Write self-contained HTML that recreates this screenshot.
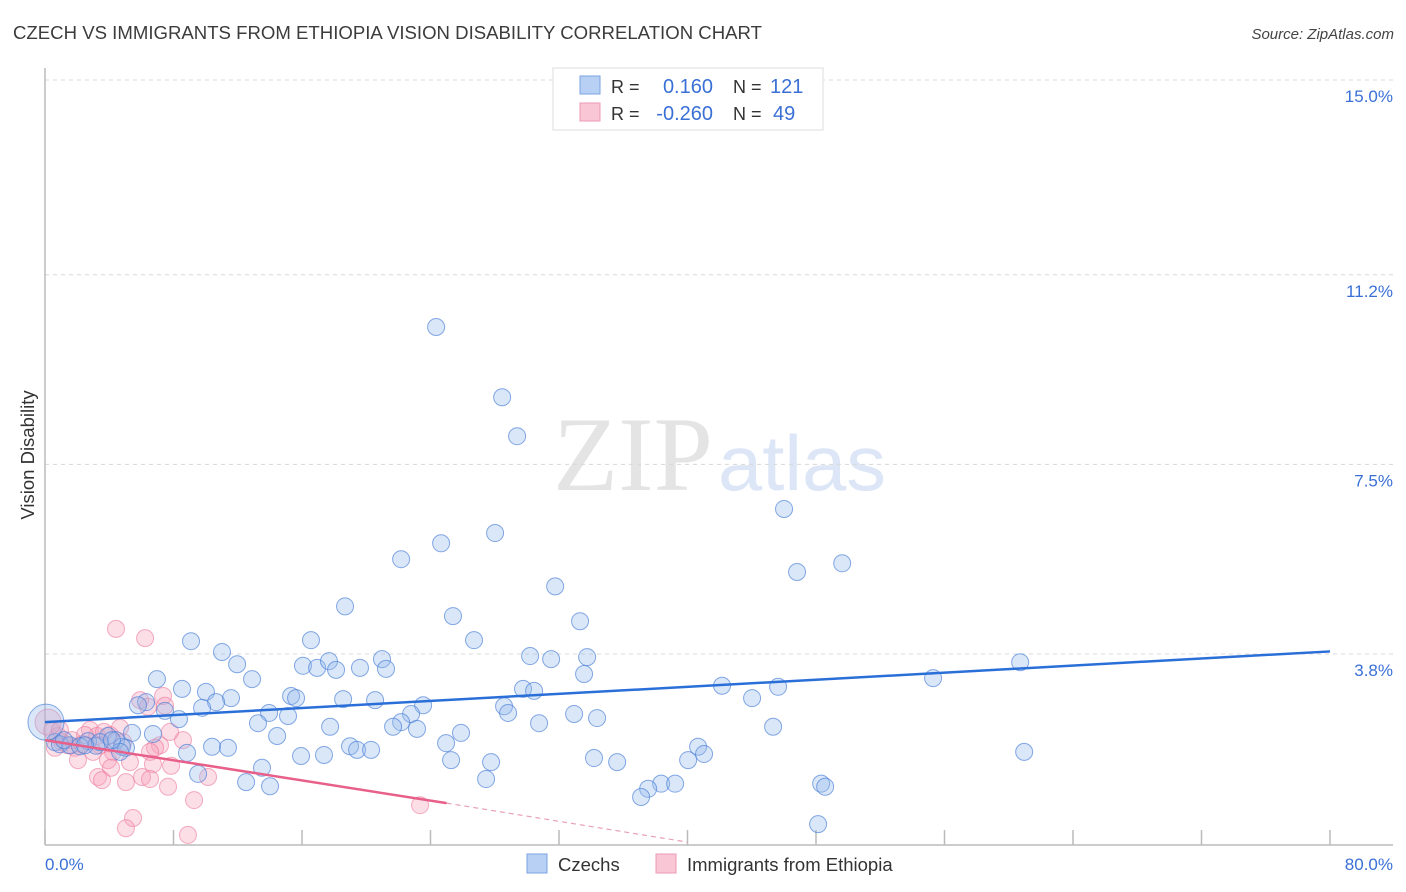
<!DOCTYPE html>
<html><head><meta charset="utf-8"><style>
body{margin:0;background:#fff;width:1406px;height:892px;overflow:hidden;font-family:"Liberation Sans",sans-serif}
svg{display:block}
</style></head><body>
<svg id="chart" width="1406" height="892" viewBox="0 0 1406 892" xmlns="http://www.w3.org/2000/svg">
<text x="13" y="39" font-size="18" textLength="749" lengthAdjust="spacingAndGlyphs" fill="#3c3c3c" font-family="Liberation Sans, sans-serif">CZECH VS IMMIGRANTS FROM ETHIOPIA VISION DISABILITY CORRELATION CHART</text>
<text x="1394" y="39" font-size="15" fill="#444" font-style="italic" text-anchor="end">Source: ZipAtlas.com</text>
<g>
<text x="553" y="490" font-size="106" textLength="160" lengthAdjust="spacingAndGlyphs" fill="#e4e4e4" font-family="Liberation Serif, serif">ZIP</text>
<text x="718" y="490" font-size="78" textLength="168" lengthAdjust="spacingAndGlyphs" fill="#dce6f7" font-family="Liberation Sans, sans-serif">atlas</text>
</g>
<g id="grid"></g>
<line x1="45" y1="68" x2="45" y2="845" stroke="#bbb" stroke-width="1.5"/>
<line x1="45" y1="845" x2="1393" y2="845" stroke="#bbb" stroke-width="1.5"/>
<g id="xticks"></g>
<g id="ylabels"></g>
<text transform="translate(34,455) rotate(-90)" font-size="18.5" fill="#333" text-anchor="middle">Vision Disability</text>
<text x="45" y="870" font-size="17" fill="#3a70d6">0.0%</text>
<text x="1393" y="870" font-size="17" fill="#3a70d6" text-anchor="end">80.0%</text>
<g id="pinkPts"></g>
<g id="bluePts"></g>
<g id="trends"></g>
<g>
<rect x="553" y="68" width="270" height="62" fill="#fff" stroke="#ddd"/>
<rect x="580" y="76" width="20" height="18" fill="#b8d0f3" stroke="#7aa3e0"/>
<rect x="580" y="103" width="20" height="18" fill="#f9c6d5" stroke="#ec9ab4"/>
<text x="611" y="93" font-size="18" fill="#333">R =</text>
<text x="713" y="93" font-size="20" fill="#3a70d6" text-anchor="end">0.160</text>
<text x="733" y="93" font-size="18" fill="#333">N =</text>
<text x="770" y="93" font-size="20" fill="#3a70d6">121</text>
<text x="611" y="120" font-size="18" fill="#333">R =</text>
<text x="713" y="120" font-size="20" fill="#3a70d6" text-anchor="end">-0.260</text>
<text x="733" y="120" font-size="18" fill="#333">N =</text>
<text x="773" y="120" font-size="20" fill="#3a70d6">49</text>
</g>
<g>
<g><rect x="527" y="854" width="20" height="19" fill="#b8d0f3" stroke="#7aa3e0"/><text x="558" y="871" font-size="18.5" fill="#333">Czechs</text></g>
<g><rect x="656" y="854" width="20" height="19" fill="#f9c6d5" stroke="#ec9ab4"/><text x="687" y="871" font-size="18.5" fill="#333">Immigrants from Ethiopia</text></g>
</g>
</svg>
<script>
const yTicks=[3.8,7.5,11.2,15.0];
const yTickLabels=["3.8%","7.5%","11.2%","15.0%"];
const xTicks=[0,8,16,24,32,40,48,56,64,72,80];
const blueX=[24.35,28.46,29.39,46.01,28.02,24.66,22.17,49.63,46.82,31.76,18.68,25.40,33.31,26.71,16.56,9.09,11.02,11.96,30.20,33.75,20.98,31.51,60.71,16.06,16.94,17.68,19.61,18.12,21.23,33.56,6.97,12.89,55.29,8.53,10.02,42.15,45.64,29.76,30.45,15.32,15.63,11.58,18.56,20.55,44.02,6.29,10.65,5.79,9.78,23.54,28.58,28.83,7.47,8.34,13.95,22.79,32.94,34.37,15.13,13.26,22.17,17.75,21.67,30.76,45.33,23.16,14.45,25.90,6.72,5.42,3.92,4.42,2.68,24.97,40.66,18.99,19.43,20.30,10.40,11.39,8.84,5.04,4.79,4.67,3.18,60.96,15.94,17.37,41.03,34.18,35.62,27.77,25.28,40.04,13.51,9.53,12.52,14.01,27.46,38.36,39.23,37.55,48.32,48.57,37.11,48.13,0.62,0.93,1.56,2.18,1.18,3.42,4.17,2.49,0.06];
const blueY=[10.18,8.81,8.05,6.63,6.16,5.96,5.65,5.57,5.40,5.12,4.73,4.54,4.44,4.07,4.07,4.05,3.84,3.60,3.76,3.74,3.70,3.70,3.64,3.57,3.53,3.66,3.53,3.49,3.51,3.41,3.31,3.31,3.33,3.12,3.06,3.18,3.16,3.12,3.08,2.98,2.94,2.94,2.92,2.90,2.94,2.86,2.86,2.80,2.75,2.80,2.78,2.65,2.69,2.53,2.65,2.63,2.63,2.55,2.59,2.45,2.47,2.38,2.38,2.45,2.38,2.34,2.20,2.26,2.24,2.26,2.20,2.12,2.10,2.06,1.99,2.00,1.93,1.93,1.99,1.97,1.87,1.97,1.99,1.89,2.01,1.89,1.81,1.83,1.85,1.77,1.69,1.69,1.73,1.73,1.58,1.46,1.30,1.22,1.36,1.27,1.27,1.17,1.27,1.21,1.01,0.48,2.08,2.04,2.02,2.00,2.12,2.08,2.12,2.02,2.47];
const pinkX=[4.42,6.23,5.92,7.35,6.41,7.47,0.44,0.81,2.80,3.24,4.05,4.67,2.49,3.67,1.06,1.43,1.87,2.30,3.42,0.62,4.86,7.16,8.59,7.78,6.85,2.99,4.23,2.05,3.92,5.29,4.11,6.54,6.72,7.85,3.30,3.55,6.04,5.04,6.54,7.66,10.15,9.28,23.35,5.48,5.04,8.90,0.19,0.93,1.68];
const pinkY=[4.29,4.11,2.90,2.98,2.77,2.79,2.30,2.20,2.32,2.20,2.22,2.36,2.22,2.28,2.08,2.02,1.97,2.04,2.02,1.97,2.08,2.02,2.12,2.28,1.97,1.89,1.89,1.73,1.73,1.69,1.58,1.89,1.65,1.62,1.40,1.34,1.40,1.30,1.36,1.21,1.40,0.95,0.85,0.60,0.40,0.27,2.47,2.32,2.12];
const blueTrendX=[0,80], blueTrendY=[2.47,3.85];
const pinkTrendX=[0,25,40], pinkTrendY=[2.12,0.89,0.13];

const X0=45,X1=1330,Y0=848.75,PPY=51.25;
const sx=v=>X0+(X1-X0)*v/80;
const sy=v=>Y0-v*PPY;
const NS="http://www.w3.org/2000/svg";
function mk(tag,attrs,parent){const e=document.createElementNS(NS,tag);for(const k in attrs)e.setAttribute(k,attrs[k]);parent.appendChild(e);return e;}
const grid=document.getElementById('grid'),yl=document.getElementById('ylabels'),xt=document.getElementById('xticks');
yTicks.forEach((t,i)=>{
  const l=mk('line',{x1:45,x2:1393,y1:sy(t),y2:sy(t),stroke:'#d8d8d8','stroke-dasharray':'4,4'},grid);
  
  
  const tx=mk('text',{x:1393,y:sy(t)+22,'font-size':17,fill:'#3a70d6','text-anchor':'end'},yl);
  tx.textContent=yTickLabels[i];
  
  
});
xTicks.forEach(t=>{
  const l=mk('line',{x1:sx(t),x2:sx(t),y1:830,y2:845,stroke:'#bbb','stroke-width':1.5},xt);
  
  
});
const pp=document.getElementById('pinkPts');
pinkX.forEach((x,i)=>{
  const big=i===46;
  const c=mk('circle',{cx:sx(x),cy:sy(pinkY[i]),r:big?13:8.5,fill:'rgba(245,160,185,0.35)',stroke:'rgba(236,120,155,0.6)','stroke-width':1},pp);
  
  
});
const bp=document.getElementById('bluePts');
blueX.forEach((x,i)=>{
  const big=i===blueX.length-1;
  const c=mk('circle',{cx:sx(x),cy:sy(blueY[i]),r:big?18:8.5,fill:'rgba(150,185,235,0.35)',stroke:'rgba(70,125,215,0.65)','stroke-width':1},bp);
  
  
});
const tr=document.getElementById('trends');
const bl=mk('line',{x1:sx(blueTrendX[0]),y1:sy(blueTrendY[0]),x2:sx(blueTrendX[1]),y2:sy(blueTrendY[1]),stroke:'#2a6fd8','stroke-width':2.5},tr);


const pl=mk('line',{x1:sx(pinkTrendX[0]),y1:sy(pinkTrendY[0]),x2:sx(pinkTrendX[1]),y2:sy(pinkTrendY[1]),stroke:'#e8608a','stroke-width':2.5},tr);


const pd=mk('line',{x1:sx(pinkTrendX[1]),y1:sy(pinkTrendY[1]),x2:sx(pinkTrendX[2]),y2:sy(pinkTrendY[2]),stroke:'#e8a0b8','stroke-width':1.2,'stroke-dasharray':'5,4'},tr);


</script>
</body></html>
